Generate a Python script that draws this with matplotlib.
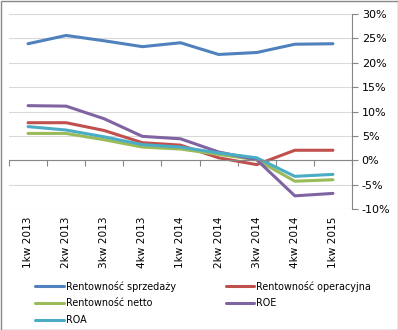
import matplotlib
matplotlib.use("Agg")
import matplotlib.pyplot as plt
from matplotlib.patches import Rectangle
from matplotlib.ticker import FuncFormatter, FixedLocator

categories = ["1kw 2013", "2kw 2013", "3kw 2013", "4kw 2013", "1kw 2014",
              "2kw 2014", "3kw 2014", "4kw 2014", "1kw 2015"]
rent_sprzedazy = [23.9, 25.6, 24.5, 23.3, 24.1, 21.7, 22.1, 23.8, 23.9]
rent_operacyjna = [7.7, 7.7, 6.1, 3.6, 3.1, 0.5, -0.9, 2.05, 2.05]
rent_netto = [5.5, 5.5, 4.2, 2.7, 2.3, 1.2, 0.1, -4.3, -4.0]
roe = [11.2, 11.1, 8.5, 4.9, 4.4, 1.7, 0.1, -7.3, -6.8]
roa = [6.9, 6.2, 4.8, 3.2, 2.7, 1.5, 0.5, -3.3, -2.9]
yticks = [-10, -5, 0, 5, 10, 15, 20, 25, 30]

series = [
    ("Rentowność sprzedaży", rent_sprzedazy, "#4F81BD"),
    ("Rentowność operacyjna", rent_operacyjna, "#C0504D"),
    ("Rentowność netto", rent_netto, "#9BBB59"),
    ("ROE", roe, "#8064A2"),
    ("ROA", roa, "#4BACC6"),
]

W, H = 398, 330
fig = plt.figure(figsize=(W / 100, H / 100), dpi=100)
ax = fig.add_axes([9 / W, 1 - 209 / H, (352 - 9) / W, (209 - 14) / H])

x = list(range(len(categories)))
handles = {}
for name, vals, col in series:
    h, = ax.plot(x, vals, color=col, lw=2.2, label=name, solid_capstyle="round",
                 solid_joinstyle="round")
    handles[name] = h

ax.set_xlim(-0.5, len(categories) - 0.5)
ax.set_ylim(-10, 30)
ax.set_yticks(yticks)
ax.yaxis.set_major_formatter(FuncFormatter(lambda v, p: f"{int(v)}%"))
ax.yaxis.tick_right()
ax.tick_params(axis="y", direction="out", length=4, color="#868686",
               labelsize=8, pad=3, labelcolor="#000000")
ax.grid(axis="y", color="#D9D9D9", lw=0.8)
ax.set_axisbelow(True)

for s in ["top", "left"]:
    ax.spines[s].set_visible(False)
ax.spines["right"].set_color("#868686")
ax.spines["bottom"].set_position(("data", 0))
ax.spines["bottom"].set_color("#868686")
ax.xaxis.set_major_locator(FixedLocator([i - 0.5 for i in range(len(categories) + 1)]))
ax.xaxis.set_major_formatter(FuncFormatter(lambda v, p: ""))
ax.tick_params(axis="x", direction="out", length=4, color="#868686")

for i, lab in enumerate(categories):
    ax.text(i, -0.04, lab, transform=ax.get_xaxis_transform(), rotation=90,
            ha="center", va="top", fontsize=7.6)

# row-major legend order: col1 = sprzedaży, netto, ROA ; col2 = operacyjna, ROE
order = ["Rentowność sprzedaży", "Rentowność netto", "ROA",
         "Rentowność operacyjna", "ROE"]
fig.legend(handles=[handles[n] for n in order], ncol=2, loc="upper left",
           bbox_to_anchor=(35 / W, 1 - 280.5 / H), frameon=False, fontsize=6.9,
           handlelength=3.0, handletextpad=0.2, columnspacing=5.2,
           labelspacing=0.72, borderpad=0, borderaxespad=0)

fig.patches.append(Rectangle((0.5 / W, 0.5 / H), 1 - 1 / W, 1 - 1 / H,
                             transform=fig.transFigure, fill=False,
                             edgecolor="#898989", lw=1))

fig.savefig("out.png", dpi=100)
